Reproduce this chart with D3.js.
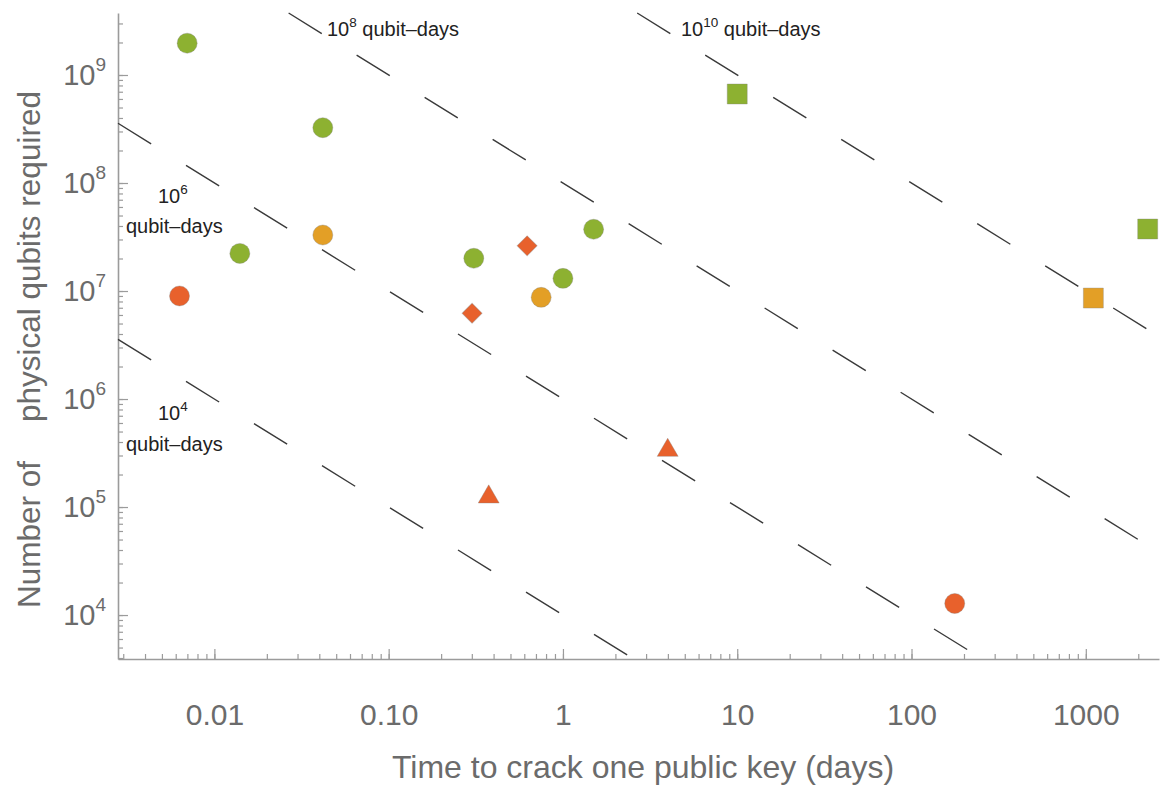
<!DOCTYPE html>
<html>
<head>
<meta charset="utf-8">
<script src="https://cdn.jsdelivr.net/npm/d3@7"></script>
<style>
  body { margin: 0; background: #fff; }
  text { font-family: "Liberation Sans", Arial, Helvetica, sans-serif; }
</style>
</head>
<body>
<div id="chart"></div>
<script>
// values
var xTickValues = [0.01, 0.1, 1, 10, 100, 1000];
var xTickLabels = ["0.01", "0.10", "1", "10", "100", "1000"];
var yTickExponents = [4, 5, 6, 7, 8, 9];

var circleTime   = [0.00698, 0.0419, 0.0140, 0.0419, 0.00631, 0.308, 1.50, 1.00, 0.75, 177];
var circleQubits = [1.97e9, 3.25e8, 2.23e7, 3.3e7, 9.0e6, 2.01e7, 3.73e7, 1.31e7, 8.74e6, 1.28e4];
var circleGroup  = ["green", "green", "green", "orange", "red", "green", "green", "green", "orange", "red"];

var diamondTime   = [0.623, 0.301];
var diamondQubits = [2.62e7, 6.22e6];
var diamondGroup  = ["red", "red"];

var triangleTime   = [3.99, 0.375];
var triangleQubits = [3.35e5, 1.24e5];
var triangleGroup  = ["red", "red"];

var squareTime   = [10, 1105, 2265];
var squareQubits = [6.67e8, 8.61e6, 3.75e7];
var squareGroup  = ["green", "orange", "green"];

var qubitDays = [1e4, 1e6, 1e8, 1e10];
var qubitDayExp = ["4", "6", "8", "10"];
var qubitDayUnit = "qubit\u2013days";

var groupColor = { green: "#8db131", orange: "#e39f26", red: "#e8612c" };

var width = 1161, height = 785;
var plotLeft = 118, plotRight = 1159, plotTop = 13, plotBottom = 659;

var svg = d3.select("#chart").append("svg")
    .attr("width", width)
    .attr("height", height)
    .style("background", "#fff");

var x = d3.scaleLog().domain([Math.pow(10, -2.553), Math.pow(10, 3.42)]).range([plotLeft, plotRight]);
var y = d3.scaleLog().domain([Math.pow(10, 3.593), Math.pow(10, 9.574)]).range([plotBottom, plotTop]);

var axisColor = "#9b9b9b";
var labelColor = "#6b6b6b";

// x axis: minor + major ticks pointing inward
var xMinor = x.ticks().filter(function(d) { return d >= x.domain()[0] && d <= x.domain()[1]; });
svg.append("g")
    .attr("transform", "translate(0," + plotBottom + ")")
    .call(d3.axisBottom(x).tickValues(xMinor).tickSizeInner(-5).tickSizeOuter(0).tickFormat(""))
    .call(function(g) { g.select(".domain").remove(); });

var xAxis = svg.append("g")
    .attr("transform", "translate(0," + plotBottom + ")")
    .call(d3.axisBottom(x).tickValues(xTickValues).tickSizeInner(-10).tickSizeOuter(0)
      .tickFormat(function(d, i) { return xTickLabels[i]; }));
xAxis.selectAll("text")
    .attr("y", 66).attr("dy", null)
    .attr("font-size", 30).attr("fill", labelColor)
    .style("font-family", "'Liberation Sans', Arial, sans-serif");

// y axis
var yMinor = y.ticks().filter(function(d) { return d >= y.domain()[0] && d <= y.domain()[1]; });
svg.append("g")
    .attr("transform", "translate(" + plotLeft + ",0)")
    .call(d3.axisLeft(y).tickValues(yMinor).tickSizeInner(-5).tickSizeOuter(0).tickFormat(""))
    .call(function(g) { g.select(".domain").remove(); });

var yAxis = svg.append("g")
    .attr("transform", "translate(" + plotLeft + ",0)")
    .call(d3.axisLeft(y).tickValues(yTickExponents.map(function(e) { return Math.pow(10, e); }))
      .tickSizeInner(-10).tickSizeOuter(0).tickFormat(""));

svg.selectAll(".domain").attr("stroke", axisColor).attr("stroke-width", 1.6);
svg.selectAll(".tick line").attr("stroke", axisColor).attr("stroke-width", 1.2);

// y tick labels as 10^n
yTickExponents.forEach(function(e) {
  var t = svg.append("text")
      .attr("x", 106)
      .attr("y", y(Math.pow(10, e)) + 10)
      .attr("text-anchor", "end")
      .attr("fill", labelColor);
  t.append("tspan").attr("font-size", 29).text("10");
  t.append("tspan").attr("font-size", 19).attr("dy", -14).text(e);
});

// axis titles
svg.append("text")
    .attr("x", 643).attr("y", 778)
    .attr("text-anchor", "middle")
    .attr("font-size", 32)
    .attr("fill", labelColor)
    .text("Time to crack one public key (days)");

var yTitle = svg.append("g").attr("transform", "translate(40,0) rotate(-90)");
yTitle.append("text").attr("x", -608).attr("y", 0)
    .attr("font-size", 31.5).attr("fill", labelColor).text("Number of");
yTitle.append("text").attr("x", -422).attr("y", 0)
    .attr("font-size", 31.5).attr("fill", labelColor).text("physical qubits required");

// constant qubit-day dashed lines, clipped to the plot range
var tMin = x.domain()[0], tMax = x.domain()[1];
var nMin = y.domain()[0], nMax = y.domain()[1];
qubitDays.forEach(function(q) {
  var t0 = Math.max(tMin, q / nMax);
  var t1 = Math.min(tMax, q / nMin);
  svg.append("line")
      .attr("x1", x(t0)).attr("y1", y(q / t0))
      .attr("x2", x(t1)).attr("y2", y(q / t1))
      .attr("stroke", "#3a3a3a")
      .attr("stroke-width", 1.4)
      .attr("stroke-dasharray", "39,41");
});

// line labels
var annFont = 20;
function qdLabel(px, py, exp, inline) {
  var t = svg.append("text").attr("x", px).attr("y", py).attr("fill", "#222");
  t.append("tspan").attr("font-size", annFont).text("10");
  t.append("tspan").attr("font-size", 13.5).attr("dy", -9).text(exp);
  if (inline) {
    t.append("tspan").attr("font-size", annFont).attr("dy", 9).text(" " + qubitDayUnit);
  }
  return t;
}
qdLabel(327, 36, qubitDayExp[2], true);
qdLabel(681, 36, qubitDayExp[3], true);
qdLabel(158, 203, qubitDayExp[1], false);
svg.append("text").attr("x", 126).attr("y", 233).attr("font-size", annFont).attr("fill", "#222").text(qubitDayUnit);
qdLabel(158, 420, qubitDayExp[0], false);
svg.append("text").attr("x", 126).attr("y", 451).attr("font-size", annFont).attr("fill", "#222").text(qubitDayUnit);

// markers
function drawMarkers(times, qubits, groups, symbolType, size, rotate) {
  var pts = times.map(function(t, i) { return { t: t, n: qubits[i], g: groups[i] }; });
  svg.append("g").selectAll("path")
      .data(pts)
      .enter().append("path")
      .attr("d", d3.symbol().type(symbolType).size(size))
      .attr("transform", function(d) {
        return "translate(" + x(d.t) + "," + y(d.n) + ")" + (rotate ? " rotate(" + rotate + ")" : "");
      })
      .attr("fill", function(d) { return groupColor[d.g]; })
      .attr("stroke", "rgba(130,130,130,0.35)")
      .attr("stroke-width", 1);
}
drawMarkers(circleTime, circleQubits, circleGroup, d3.symbolCircle, Math.PI * 100, 0);
drawMarkers(squareTime, squareQubits, squareGroup, d3.symbolSquare, 400, 0);
drawMarkers(diamondTime, diamondQubits, diamondGroup, d3.symbolSquare, 200, 45);
drawMarkers(triangleTime, triangleQubits, triangleGroup, d3.symbolTriangle, 190, 0);
</script>
</body>
</html>
